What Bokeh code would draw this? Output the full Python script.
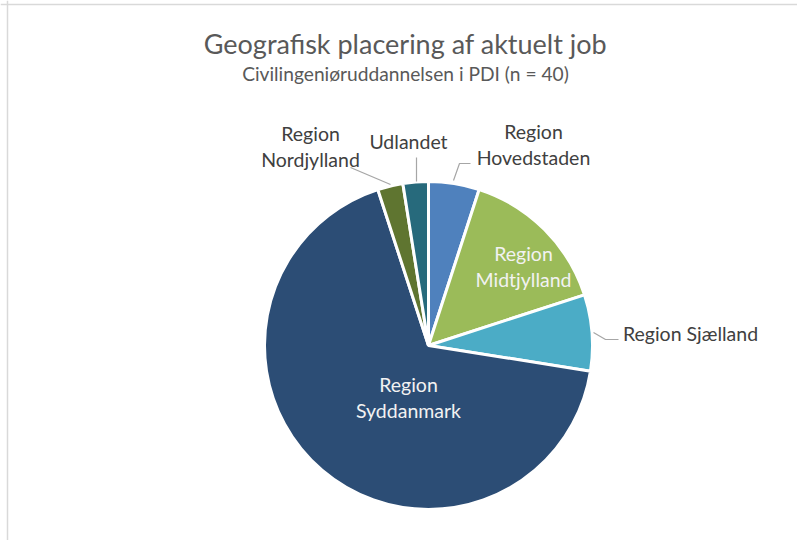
import math
from bokeh.plotting import figure
from bokeh.models import ColumnDataSource, Span
from bokeh.core.properties import value
from bokeh.embed import file_html
from bokeh.resources import INLINE

# ---- data ----
categories = ["Region Hovedstaden", "Region Midtjylland", "Region Sjælland",
              "Region Syddanmark", "Region Nordjylland", "Udlandet"]
counts = [2, 6, 3, 27, 1, 1]
colors = ["#4F81BD", "#9BBB59", "#4BACC6", "#2C4D75", "#5F7530", "#276A7C"]
label_texts = ["Region\nHovedstaden", "Region\nMidtjylland", "Region Sjælland",
               "Region\nSyddanmark", "Region\nNordjylland", "Udlandet"]
title_text = "Geografisk placering af aktuelt job"
subtitle_text = "Civilingeniøruddannelsen i PDI (n = 40)"

# ---- layout (pixels) ----
W, H = 797, 540
PCX, PCY = 428, 345     # pie centre in page pixels (from left / top)
R = 164                 # pie radius in pixels
FONT = "Lato"


def px(x, y):
    """page pixel (from left/top) -> data coordinates"""
    return (x - PCX) / R, (PCY - y) / R


# label positions as pixel offsets from the pie centre (dx right, dy up)
label_offsets = [(105, 201), (95, 79), (262, 12), (-20, -52), (-118, 199), (-20, 204)]
label_colors = ["#404040", "#F2F2F2", "#404040", "#F2F2F2", "#404040", "#404040"]
leader_paths = [
    [(25, 165), (31, 182), (42, 182)],
    None,
    [(165, 13), (177, 6), (190, 6)],
    None,
    [(-38, 161), (-78, 178)],
    [(-12, 164), (-12, 188)],
]

x0, y1 = px(0, 0)
x1, y0 = px(W, H)
p = figure(width=W, height=H, output_backend="svg", toolbar_location=None,
           x_range=(x0, x1), y_range=(y0, y1),
           min_border=0, outline_line_color=None)
p.axis.visible = False
p.grid.visible = False
p.background_fill_color = "white"
p.border_fill_color = "white"

total = sum(counts)
starts, ends = [], []
cum = 0.0
for c in counts:
    a0 = math.pi / 2 - 2 * math.pi * cum / total
    cum += c
    a1 = math.pi / 2 - 2 * math.pi * cum / total
    starts.append(a0)
    ends.append(a1)

src = ColumnDataSource(dict(x=[0] * len(counts), y=[0] * len(counts),
                            start=starts, end=ends, color=colors, cat=categories))
p.wedge(x="x", y="y", radius=1.0, start_angle="start", end_angle="end",
        direction="clock", fill_color="color", line_color="white", line_width=3,
        source=src)

# leader lines
for path in leader_paths:
    if path:
        p.line([q[0] / R for q in path], [q[1] / R for q in path],
               line_color="#A6A6A6", line_width=1.2)

lsrc = ColumnDataSource(dict(
    x=[o[0] / R for o in label_offsets], y=[o[1] / R for o in label_offsets],
    text=label_texts, color=label_colors))
p.text(x="x", y="y", text="text", text_color="color", source=lsrc,
       text_align="center", text_baseline="middle", text_font=value(FONT),
       text_font_size="19.5px", text_line_height=1.1)

# title / subtitle
tx, ty = px(405, 43)
p.text(x=[tx], y=[ty], text=[title_text],
       text_align="center", text_baseline="middle", text_font=value(FONT),
       text_font_size="27px", text_color="#595959")
sx, sy = px(405, 73)
p.text(x=[sx], y=[sy], text=[subtitle_text],
       text_align="center", text_baseline="middle", text_font=value(FONT),
       text_font_size="19.2px", text_color="#595959")

# chart border (left and top)
bx, by = px(7, 4)
p.add_layout(Span(location=bx, dimension="height", line_color="#D9D9D9", line_width=1.5))
p.add_layout(Span(location=by, dimension="width", line_color="#D9D9D9", line_width=1.5))

open("out.html", "w").write(file_html(p, INLINE))
